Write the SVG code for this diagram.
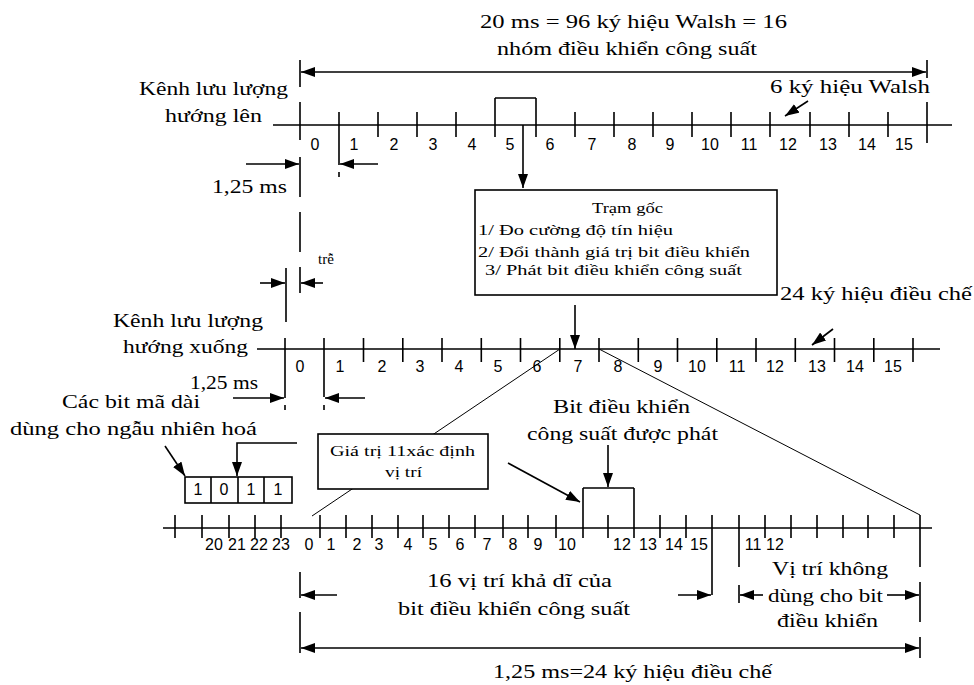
<svg xmlns="http://www.w3.org/2000/svg" width="974" height="685" viewBox="0 0 974 685">
<style>
.t{font-family:'Liberation Serif','DejaVu Serif',serif;font-size:19px;fill:#000}
.s{font-family:'Liberation Serif','DejaVu Serif',serif;font-size:15px;fill:#000}
.n{font-family:'Liberation Sans','DejaVu Sans',sans-serif;font-size:16px;fill:#000;text-anchor:middle}
.l{stroke:#000;stroke-width:1.6;fill:none}
.d{stroke:#000;stroke-width:1;fill:none}
.a{stroke:#000;stroke-width:1.6;fill:none;marker-end:url(#ah)}
.a2{stroke:#000;stroke-width:1.6;fill:none;marker-start:url(#ah);marker-end:url(#ah)}
</style>
<defs>
<marker id="ah" viewBox="0 0 14 10" refX="14" refY="5" markerWidth="14" markerHeight="10" markerUnits="userSpaceOnUse" orient="auto-start-reverse">
<path d="M0,0 L14,5 L0,10 z" fill="#000"/>
</marker>
</defs>
<rect width="974" height="685" fill="#fff"/>

<g id="title">
<text class="t" x="480" y="28" textLength="307" lengthAdjust="spacingAndGlyphs">20 ms = 96 ký hiệu Walsh = 16</text>
<text class="t" x="497" y="55" textLength="260" lengthAdjust="spacingAndGlyphs">nhóm điều khiển công suất</text>
</g>

<g id="uplink-axis">
<text class="t" x="139" y="95" textLength="149" lengthAdjust="spacingAndGlyphs">Kênh lưu lượng</text>
<text class="t" x="165" y="122" textLength="97" lengthAdjust="spacingAndGlyphs">hướng lên</text>
<path class="l" d="M273,125 H952 M300,102 V140 M339,112 V165 M339,172 V177 M378,112 V137 M417,112 V137 M456,112 V137 M495,98 V137 M495,98 H536 M536,98 V137 M575,112 V137 M614,112 V137 M653,112 V137 M692,112 V137 M731,112 V137 M770,112 V137 M810,112 V137 M849,112 V137 M888,112 V137 M927,102 V143"/>
<text class="n" x="315" y="150">0</text>
<text class="n" x="354" y="150">1</text>
<text class="n" x="394" y="150">2</text>
<text class="n" x="433" y="150">3</text>
<text class="n" x="472" y="150">4</text>
<text class="n" x="510" y="150">5</text>
<text class="n" x="550" y="150">6</text>
<text class="n" x="592" y="150">7</text>
<text class="n" x="632" y="150">8</text>
<text class="n" x="670" y="150">9</text>
<text class="n" x="710" y="150">10</text>
<text class="n" x="749" y="150">11</text>
<text class="n" x="788" y="150">12</text>
<text class="n" x="828" y="150">13</text>
<text class="n" x="867" y="150">14</text>
<text class="n" x="904" y="150">15</text>
<text class="t" x="770" y="93" textLength="160" lengthAdjust="spacingAndGlyphs">6 ký hiệu Walsh</text>
</g>

<g id="timing-top">
<path class="l" d="M300,60 V87 M927,60 V78 M300,157 V197 M300,212 V252 M300,267 V293 M286,268 V322"/>
<text class="t" x="212" y="193" textLength="75" lengthAdjust="spacingAndGlyphs">1,25 ms</text>
<text class="s" x="318" y="264">trễ</text>
</g>

<g id="base-station">
<rect x="475" y="190" width="302" height="105" fill="#fff" stroke="#000" stroke-width="1.6"/>
<text class="s" x="592" y="213" textLength="71" lengthAdjust="spacingAndGlyphs">Trạm gốc</text>
<text class="s" x="478" y="235" textLength="195" lengthAdjust="spacingAndGlyphs">1/ Đo cường độ tín hiệu</text>
<text class="s" x="478" y="257" textLength="272" lengthAdjust="spacingAndGlyphs">2/ Đổi thành giá trị bit điều khiển</text>
<text class="s" x="485" y="275" textLength="257" lengthAdjust="spacingAndGlyphs">3/ Phát bit điều khiển công suất</text>
</g>

<g id="downlink-axis">
<text class="t" x="780" y="300" textLength="192" lengthAdjust="spacingAndGlyphs">24 ký hiệu điều chế</text>
<text class="t" x="113" y="327" textLength="150" lengthAdjust="spacingAndGlyphs">Kênh lưu lượng</text>
<text class="t" x="123" y="353" textLength="125" lengthAdjust="spacingAndGlyphs">hướng xuống</text>
<path class="l" d="M257,349 H940 M285,338 V398 M285,405 V410 M324,338 V397 M324,405 V410 M363.5,338 V362 M402.8,338 V362 M442,338 V362 M481.3,338 V362 M520.5,338 V362 M559.8,338 V362 M599,338 V362 M638.3,338 V362 M677.5,338 V362 M716.8,338 V362 M756,338 V362 M795.3,338 V362 M834.5,338 V362 M873.8,338 V362 M913,338 V362"/>
<text class="n" x="300" y="372">0</text>
<text class="n" x="340" y="372">1</text>
<text class="n" x="382" y="372">2</text>
<text class="n" x="420" y="372">3</text>
<text class="n" x="459" y="372">4</text>
<text class="n" x="498" y="372">5</text>
<text class="n" x="537" y="372">6</text>
<text class="n" x="578" y="372">7</text>
<text class="n" x="618" y="372">8</text>
<text class="n" x="658" y="372">9</text>
<text class="n" x="697" y="372">10</text>
<text class="n" x="737" y="372">11</text>
<text class="n" x="775" y="372">12</text>
<text class="n" x="817" y="372">13</text>
<text class="n" x="855" y="372">14</text>
<text class="n" x="893" y="372">15</text>
<text class="t" x="190" y="389" textLength="68" lengthAdjust="spacingAndGlyphs">1,25 ms</text>
</g>

<g id="zoom-lines">
<path class="d" d="M560,349 L312,516 M599,349 L920,515"/>
</g>

<g id="long-code-bits">
<text class="t" x="62" y="408" textLength="138" lengthAdjust="spacingAndGlyphs">Các bit mã dài</text>
<text class="t" x="10" y="435" textLength="247" lengthAdjust="spacingAndGlyphs">dùng cho ngẫu nhiên hoá</text>
<rect x="185" y="477" width="107" height="26" fill="#fff" stroke="#000" stroke-width="1.6"/>
<path class="l" d="M211,477 V503 M238,477 V503 M264,477 V503"/>
<text class="n" x="198" y="495">1</text>
<text class="n" x="224" y="495">0</text>
<text class="n" x="251" y="495">1</text>
<text class="n" x="278" y="495">1</text>
</g>

<g id="position-box">
<rect x="318" y="434" width="170" height="55" fill="#fff" stroke="#000" stroke-width="1.6"/>
<text class="s" x="330" y="456" font-size="16" textLength="145" lengthAdjust="spacingAndGlyphs">Giá trị 11xác định</text>
<text class="s" x="385" y="477" font-size="16" textLength="37" lengthAdjust="spacingAndGlyphs">vị trí</text>
</g>

<g id="pcb-label">
<text class="t" x="553" y="413" textLength="137" lengthAdjust="spacingAndGlyphs">Bit điều khiển</text>
<text class="t" x="527" y="440" textLength="191" lengthAdjust="spacingAndGlyphs">công suất được phát</text>
</g>

<g id="pcg-axis">
<path class="l" d="M163,528 H932 M175,515 V538 M202,515 V538 M229,515 V538 M255,515 V538 M281,515 V538 M320,515 V538 M346,515 V538 M372,515 V538 M398,515 V538 M423,515 V538 M449,515 V538 M475,515 V538 M503,515 V538 M528,515 V538 M556,515 V538 M583,488 V538 M583,488 H634 M608,515 V538 M634,488 V538 M660,515 V538 M686,515 V538 M712,515 V595 M739,515 V567 M739,585 V603 M765,515 V538 M791,515 V538 M817,515 V538 M843,515 V538 M868,515 V538 M894,515 V538 M920,515 V567 M920,582 V622 M920,637 V658 M300,572 V598 M300,612 V653"/>
<text class="n" x="214" y="550">20</text>
<text class="n" x="237" y="550">21</text>
<text class="n" x="259" y="550">22</text>
<text class="n" x="281" y="550">23</text>
<text class="n" x="309" y="550">0</text>
<text class="n" x="331" y="550">1</text>
<text class="n" x="357" y="550">2</text>
<text class="n" x="379" y="550">3</text>
<text class="n" x="408" y="550">4</text>
<text class="n" x="433" y="550">5</text>
<text class="n" x="460" y="550">6</text>
<text class="n" x="487" y="550">7</text>
<text class="n" x="513" y="550">8</text>
<text class="n" x="538" y="550">9</text>
<text class="n" x="567" y="550">10</text>
<text class="n" x="622" y="550">12</text>
<text class="n" x="648" y="550">13</text>
<text class="n" x="674" y="550">14</text>
<text class="n" x="699" y="550">15</text>
<text class="n" x="753" y="550">11</text>
<text class="n" x="775" y="550">12</text>
<text class="t" x="427" y="587" textLength="185" lengthAdjust="spacingAndGlyphs">16 vị trí khả dĩ của</text>
<text class="t" x="398" y="615" textLength="232" lengthAdjust="spacingAndGlyphs">bit điều khiển công suất</text>
<text class="t" x="772" y="575" textLength="116" lengthAdjust="spacingAndGlyphs">Vị trí không</text>
<text class="t" x="768" y="602" textLength="115" lengthAdjust="spacingAndGlyphs">dùng cho bit</text>
<text class="t" x="777" y="627" textLength="101" lengthAdjust="spacingAndGlyphs">điều khiển</text>
<text class="t" x="493" y="678" textLength="279" lengthAdjust="spacingAndGlyphs">1,25 ms=24 ký hiệu điều chế</text>
</g>

<g id="connectors">
<line class="a2" x1="301" y1="72" x2="926" y2="72"/>
<line class="a" x1="808" y1="101" x2="785" y2="116"/>
<line class="a" x1="523" y1="125" x2="523" y2="188"/>
<line class="a" x1="246" y1="164" x2="299" y2="164"/>
<line class="a" x1="378" y1="164" x2="340" y2="164"/>
<line class="a" x1="260" y1="283" x2="285" y2="283"/>
<line class="a" x1="323" y1="283" x2="301" y2="283"/>
<line class="a" x1="575" y1="305" x2="575" y2="349"/>
<line class="a" x1="833" y1="329" x2="812" y2="345"/>
<line class="a" x1="233" y1="398" x2="284" y2="398"/>
<line class="a" x1="365" y1="398" x2="325" y2="398"/>
<line class="a" x1="165" y1="446" x2="185" y2="476"/>
<path class="a" d="M297,443 H237 V476"/>
<line class="a" x1="508" y1="463" x2="580" y2="502"/>
<line class="a" x1="608" y1="445" x2="608" y2="487"/>
<line class="a" x1="337" y1="595" x2="301" y2="595"/>
<line class="a" x1="678" y1="595" x2="711" y2="595"/>
<line class="a" x1="763" y1="595" x2="740" y2="595"/>
<line class="a" x1="887" y1="595" x2="919" y2="595"/>
<line class="a2" x1="301" y1="648" x2="919" y2="648"/>
</g>
</svg>
